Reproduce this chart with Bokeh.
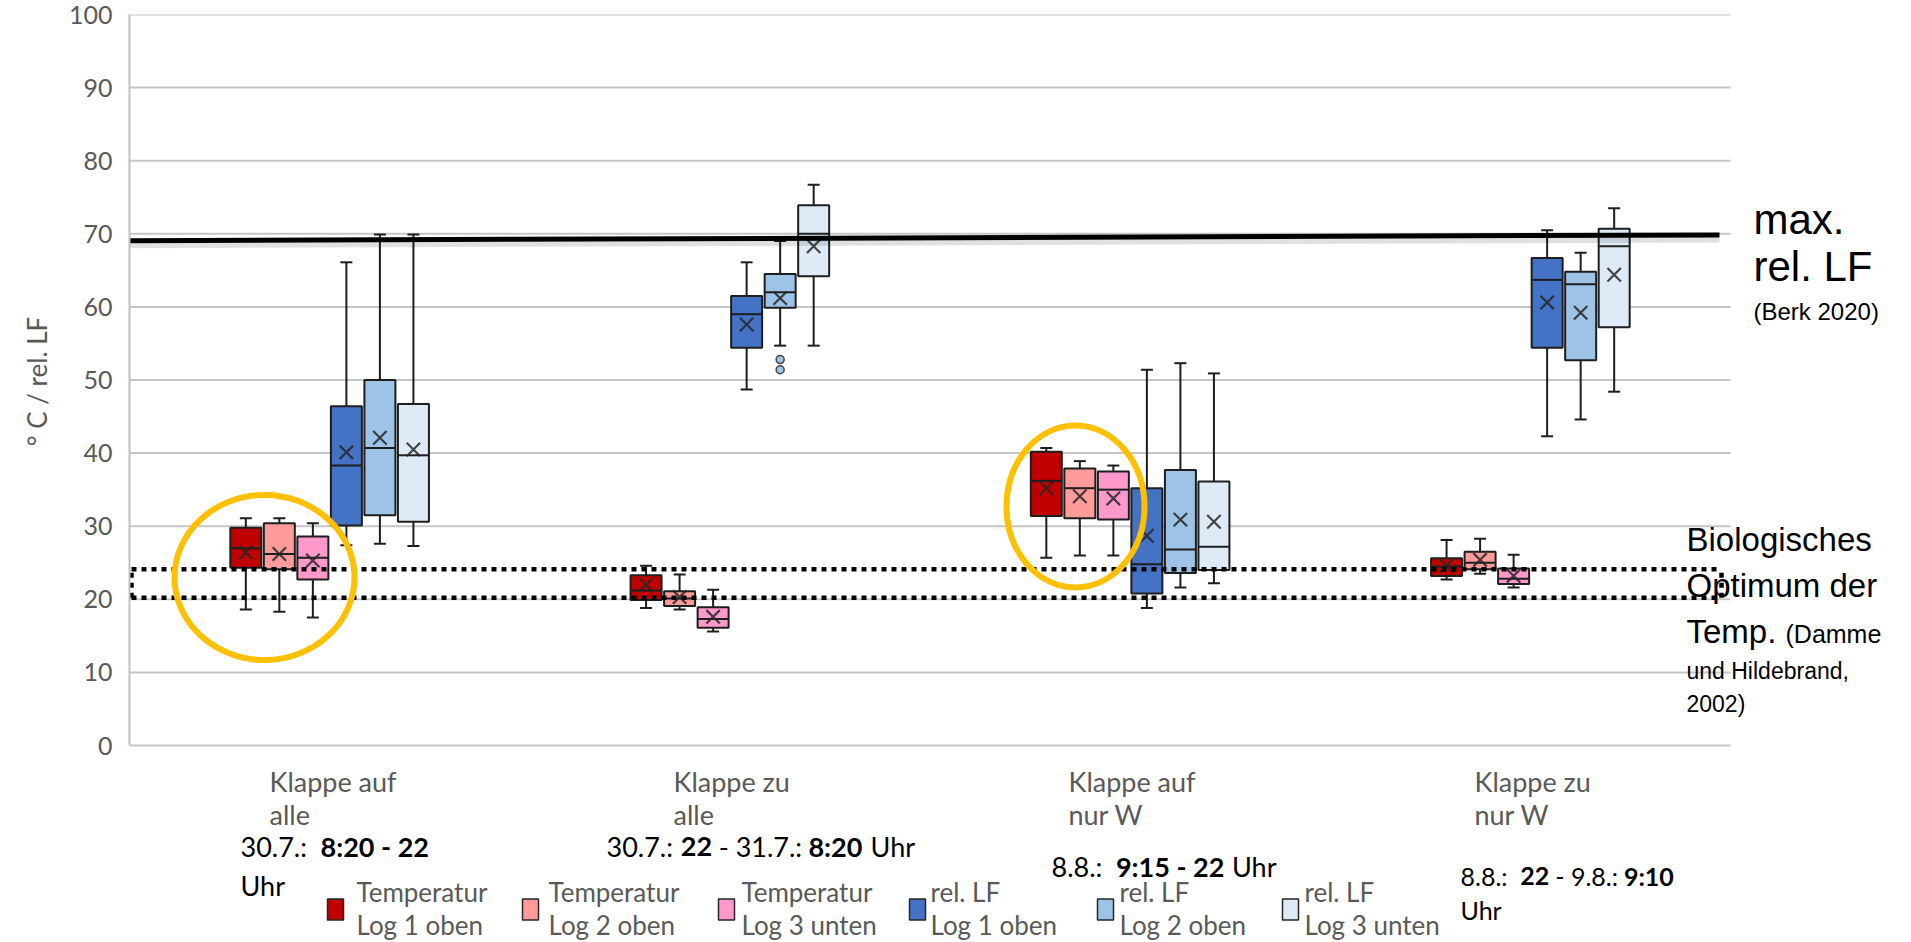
from bokeh.plotting import figure
from bokeh.layouts import column
from bokeh.models import Label, FixedTicker, Range1d
from bokeh.embed import file_html
from bokeh.resources import INLINE

# ---------------- data ----------------
categories = [("Klappe auf", "alle"), ("Klappe zu", "alle"),
              ("Klappe auf", "nur W"), ("Klappe zu", "nur W")]
series_labels = [("Temperatur", "Log 1 oben"), ("Temperatur", "Log 2 oben"),
                 ("Temperatur", "Log 3 unten"), ("rel. LF", "Log 1 oben"),
                 ("rel. LF", "Log 2 oben"), ("rel. LF", "Log 3 unten")]
series_colors = ["#C00000", "#FF9B9B", "#FF99CC", "#4472C4", "#9DC3E6", "#DEEBF7"]

t1_low = [18.6, 18.8, 25.7, 22.7]
t1_q1 = [24.3, 19.9, 31.4, 23.2]
t1_med = [27.0, 21.2, 36.2, 24.5]
t1_q3 = [29.8, 23.3, 40.2, 25.6]
t1_high = [31.1, 24.6, 40.7, 28.1]
t1_mean = [26.4, 22.0, 35.2, 24.6]

t2_low = [18.3, 18.6, 26.0, 23.5]
t2_q1 = [24.1, 19.1, 31.1, 24.1]
t2_med = [26.2, 20.1, 35.2, 25.0]
t2_q3 = [30.4, 21.1, 37.9, 26.5]
t2_high = [31.1, 23.4, 38.9, 28.3]
t2_mean = [26.2, 20.3, 34.1, 25.4]

t3_low = [17.5, 15.6, 26.0, 21.6]
t3_q1 = [22.7, 16.1, 30.9, 22.1]
t3_med = [25.7, 17.3, 35.0, 22.8]
t3_q3 = [28.6, 18.9, 37.5, 24.2]
t3_high = [30.4, 21.3, 38.3, 26.1]
t3_mean = [25.3, 17.6, 33.8, 23.2]

r1_low = [27.4, 48.7, 18.8, 42.3]
r1_q1 = [30.1, 54.4, 20.8, 54.4]
r1_med = [38.3, 59.0, 24.8, 63.7]
r1_q3 = [46.4, 61.5, 35.2, 66.7]
r1_high = [66.1, 66.1, 51.4, 70.5]
r1_mean = [40.1, 57.6, 28.7, 60.6]

r2_low = [27.6, 54.7, 21.6, 44.6]
r2_q1 = [31.5, 59.9, 23.6, 52.7]
r2_med = [40.7, 62.0, 26.8, 63.1]
r2_q3 = [50.0, 64.5, 37.7, 64.8]
r2_high = [69.9, 69.0, 52.3, 67.4]
r2_mean = [42.1, 61.2, 30.9, 59.2]
r2_outlier_cat = [1, 1]
r2_outliers = [52.8, 51.4]

r3_low = [27.3, 54.7, 22.2, 48.4]
r3_q1 = [30.6, 64.2, 24.0, 57.2]
r3_med = [39.7, 70.0, 27.2, 68.3]
r3_q3 = [46.7, 73.9, 36.1, 70.7]
r3_high = [69.9, 76.7, 50.9, 73.5]
r3_mean = [40.5, 68.3, 30.6, 64.4]

y_ticks = [0, 10, 20, 30, 40, 50, 60, 70, 80, 90, 100]
max_rel_lf = [69.05, 69.85]          # max. rel. LF line (left, right end)
bio_optimum = [20.2, 24.1]           # biologisches Optimum der Temp.

date_lines = [
    [("30.7.:  ", "normal"), ("8:20 - 22", "bold")],
    [("30.7.: ", "normal"), ("22", "bold"), (" - 31.7.: ", "normal"), ("8:20", "bold"), (" Uhr", "normal")],
    [("8.8.:  ", "normal"), ("9:15 - 22", "bold"), (" Uhr", "normal")],
    [("8.8.:  ", "normal"), ("22", "bold"), (" - 9.8.: ", "normal"), ("9:10", "bold")],
]

series = [
    dict(low=t1_low, q1=t1_q1, med=t1_med, q3=t1_q3, high=t1_high, mean=t1_mean),
    dict(low=t2_low, q1=t2_q1, med=t2_med, q3=t2_q3, high=t2_high, mean=t2_mean),
    dict(low=t3_low, q1=t3_q1, med=t3_med, q3=t3_q3, high=t3_high, mean=t3_mean),
    dict(low=r1_low, q1=r1_q1, med=r1_med, q3=r1_q3, high=r1_high, mean=r1_mean),
    dict(low=r2_low, q1=r2_q1, med=r2_med, q3=r2_q3, high=r2_high, mean=r2_mean),
    dict(low=r3_low, q1=r3_q1, med=r3_med, q3=r3_q3, high=r3_high, mean=r3_mean),
]

# ---------------- layout (page pixel coordinates) ----------------
PAGE_W = 1905
FRAME_BOTTOM = 748                      # bottom of chart frame
SPLIT = 765                             # boundary between chart and caption figure
PAGE_H = 942
FRAME_L, FRAME_T = 129, 14
X0_PX, X4_PX = 129, 1730                # category axis span (4 categories)
Y100_PX, Y0_PX = 14, 745                # value axis span 0..100
NCAT = len(categories)


def dx(px):
    return (px - X0_PX) / (X4_PX - X0_PX) * NCAT


def dy(py):
    return (Y0_PX - py) / (Y0_PX - Y100_PX) * 100.0


PX_X = NCAT / (X4_PX - X0_PX)
PX_Y = 100.0 / (Y0_PX - Y100_PX)
STEP = 0.08375
offsets = [(k - 2.5) * STEP for k in range(6)]
BOX_W = 31 * PX_X
CAP_W = 12 * PX_X

x_range = Range1d(0, dx(PAGE_W))

p = figure(width=PAGE_W, height=SPLIT, x_range=x_range, y_range=Range1d(dy(FRAME_BOTTOM), 100),
           output_backend="svg", toolbar_location=None, title=None,
           min_border_left=FRAME_L, min_border_right=0, min_border_top=FRAME_T,
           min_border_bottom=SPLIT - FRAME_BOTTOM)
p.outline_line_color = None
p.border_fill_color = "white"
p.xaxis.visible = False
p.xgrid.visible = False
p.ygrid.visible = False

ax = p.yaxis[0]
ax.ticker = FixedTicker(ticks=y_ticks)
ax.bounds = (y_ticks[0], y_ticks[-1])
ax.axis_line_color = "#C0C0C0"
ax.axis_line_width = 2
ax.major_tick_line_color = None
ax.minor_tick_line_color = None
ax.major_tick_out = 0
ax.major_tick_in = 0
ax.major_label_text_font = "Lato"
ax.major_label_text_font_size = "25px"
ax.major_label_text_color = "#595959"
ax.major_label_standoff = 17
ax.axis_label = "° C / rel. LF"
ax.axis_label_text_font = "Lato"
ax.axis_label_text_font_size = "26px"
ax.axis_label_text_font_style = "normal"
ax.axis_label_text_color = "#595959"
ax.axis_label_standoff = 13

# horizontal gridlines over the category span
p.segment(x0=[0] * len(y_ticks), x1=[NCAT] * len(y_ticks), y0=y_ticks, y1=y_ticks,
          line_color="#C6C6C6", line_width=2)

EDGE = "#1E1E1E"
for k, s in enumerate(series):
    xs = [i + 0.5 + offsets[k] for i in range(NCAT)]
    p.segment(x0=xs, y0=s["q3"], x1=xs, y1=s["high"], line_color=EDGE, line_width=2)
    p.segment(x0=xs, y0=s["q1"], x1=xs, y1=s["low"], line_color=EDGE, line_width=2)
    p.segment(x0=[x - CAP_W / 2 for x in xs], y0=s["high"], x1=[x + CAP_W / 2 for x in xs], y1=s["high"],
              line_color=EDGE, line_width=2)
    p.segment(x0=[x - CAP_W / 2 for x in xs], y0=s["low"], x1=[x + CAP_W / 2 for x in xs], y1=s["low"],
              line_color=EDGE, line_width=2)
    p.vbar(x=xs, width=BOX_W, bottom=s["q1"], top=s["q3"], fill_color=series_colors[k],
           line_color=EDGE, line_width=2)
    p.segment(x0=[x - BOX_W / 2 for x in xs], y0=s["med"], x1=[x + BOX_W / 2 for x in xs], y1=s["med"],
              line_color=EDGE, line_width=2)
    p.scatter(x=xs, y=s["mean"], marker="x", size=19, line_color="#262626", line_width=2.2, line_alpha=0.85)

# outliers of rel. LF Log 2 oben
p.scatter(x=[c + 0.5 + offsets[4] for c in r2_outlier_cat], y=r2_outliers, marker="circle", size=8,
          fill_color=series_colors[4], line_color="#404040", line_width=1.5)

# biological optimum dotted box
bx_l, bx_r = dx(131), dx(1721)
p.multi_line(xs=[[bx_l, bx_r], [bx_l, bx_r], [bx_l, bx_l], [bx_r, bx_r]],
             ys=[[bio_optimum[1]] * 2, [bio_optimum[0]] * 2, bio_optimum, bio_optimum],
             line_color="black", line_width=4.5, line_dash="5 5")

# orange highlight ellipses
p.ellipse(x=[dx(264), dx(1075)], y=[dy(577), dy(506)],
          width=[180 * PX_X, 138 * PX_X], height=[165 * PX_Y, 162 * PX_Y],
          fill_color=None, line_color="#FFC000", line_width=6)

# max rel LF line with soft shadow
p.line(x=[0, dx(1719)], y=[max_rel_lf[0] - 0.55, max_rel_lf[1] - 0.55], line_color="#000000",
       line_alpha=0.12, line_width=7)
p.line(x=[0, dx(1719)], y=max_rel_lf, line_color="black", line_width=5)

# ---------------- caption figure below the chart ----------------
q = figure(width=PAGE_W, height=PAGE_H - SPLIT, x_range=x_range, y_range=Range1d(dy(PAGE_H), dy(SPLIT)),
           output_backend="svg", toolbar_location=None, title=None,
           min_border_left=FRAME_L, min_border_right=0, min_border_top=0, min_border_bottom=0)
q.outline_line_color = None
q.border_fill_color = "white"
q.axis.visible = False
q.grid.visible = False


def label(fig, xp, yp, text, size, color, font="Lato", style="normal"):
    fig.add_layout(Label(x=dx(xp), y=dy(yp), text=text, text_font=font, text_font_size=f"{size}px",
                         text_color=color, text_font_style=style, text_align="left", text_baseline="middle"))


# category labels
cat_x = [269, 673, 1068, 1474]
for i, (l1, l2) in enumerate(categories):
    label(q, cat_x[i], 781, l1, 27, "#595959")
    label(q, cat_x[i], 814, l2, 27, "#595959")

# date annotations with bold parts (approximate Lato advance widths, em)
W_REG = {"d": 0.58, ".": 0.255, ":": 0.285, " ": 0.215, "-": 0.36, "U": 0.72, "h": 0.57, "r": 0.385}
W_BOLD = {"d": 0.595, ".": 0.265, ":": 0.30, " ": 0.215, "-": 0.38, "U": 0.72, "h": 0.59, "r": 0.40}


def run_width(text, style, size):
    tbl = W_BOLD if style == "bold" else W_REG
    return sum(tbl["d"] if ch.isdigit() else tbl.get(ch, 0.55) for ch in text) * size


date_pos = [(240, 846, 27), (606, 846, 27), (1051, 866, 27), (1460, 875, 25)]
for (xp, yp, size), runs in zip(date_pos, date_lines):
    cx = xp
    for txt, st in runs:
        lead = txt[:len(txt) - len(txt.lstrip(" "))]
        label(q, cx + run_width(lead, st, size), yp, txt.strip(" "), size, "black", style=st)
        cx += run_width(txt, st, size)
label(q, 240, 885, "Uhr", 27, "black")
label(q, 1460, 909, "Uhr", 25, "black")

# legend
leg_marker_x = [335, 530, 726, 917, 1105, 1290]
leg_text_x = [356, 548, 741, 930, 1119, 1304]
q.rect(x=[dx(v) for v in leg_marker_x], y=[dy(909)] * len(leg_marker_x), width=16, height=21,
       width_units="screen", height_units="screen", fill_color=series_colors,
       line_color="#262626", line_width=1.5)
for k, (l1, l2) in enumerate(series_labels):
    label(q, leg_text_x[k], 891, l1, 26, "#595959")
    label(q, leg_text_x[k], 924, l2, 26, "#595959")

# right-side notes (in chart figure)
NOTE_FONT = "Liberation Sans"
label(p, 1753, 219, "max.", 42, "black", font=NOTE_FONT)
label(p, 1753, 266, "rel. LF", 42, "black", font=NOTE_FONT)
label(p, 1753, 311, "(Berk 2020)", 24, "black", font=NOTE_FONT)
label(p, 1686, 539, "Biologisches", 33, "black", font=NOTE_FONT)
label(p, 1686, 585, "Optimum der", 33, "black", font=NOTE_FONT)
label(p, 1686, 631, "Temp.", 33, "black", font=NOTE_FONT)
label(p, 1785, 633, "(Damme", 25, "black", font=NOTE_FONT)
label(p, 1686, 670, "und Hildebrand,", 23, "black", font=NOTE_FONT)
label(p, 1686, 703, "2002)", 23, "black", font=NOTE_FONT)

layout = column(p, q, spacing=0)
open("out.html", "w").write(file_html(layout, INLINE))
